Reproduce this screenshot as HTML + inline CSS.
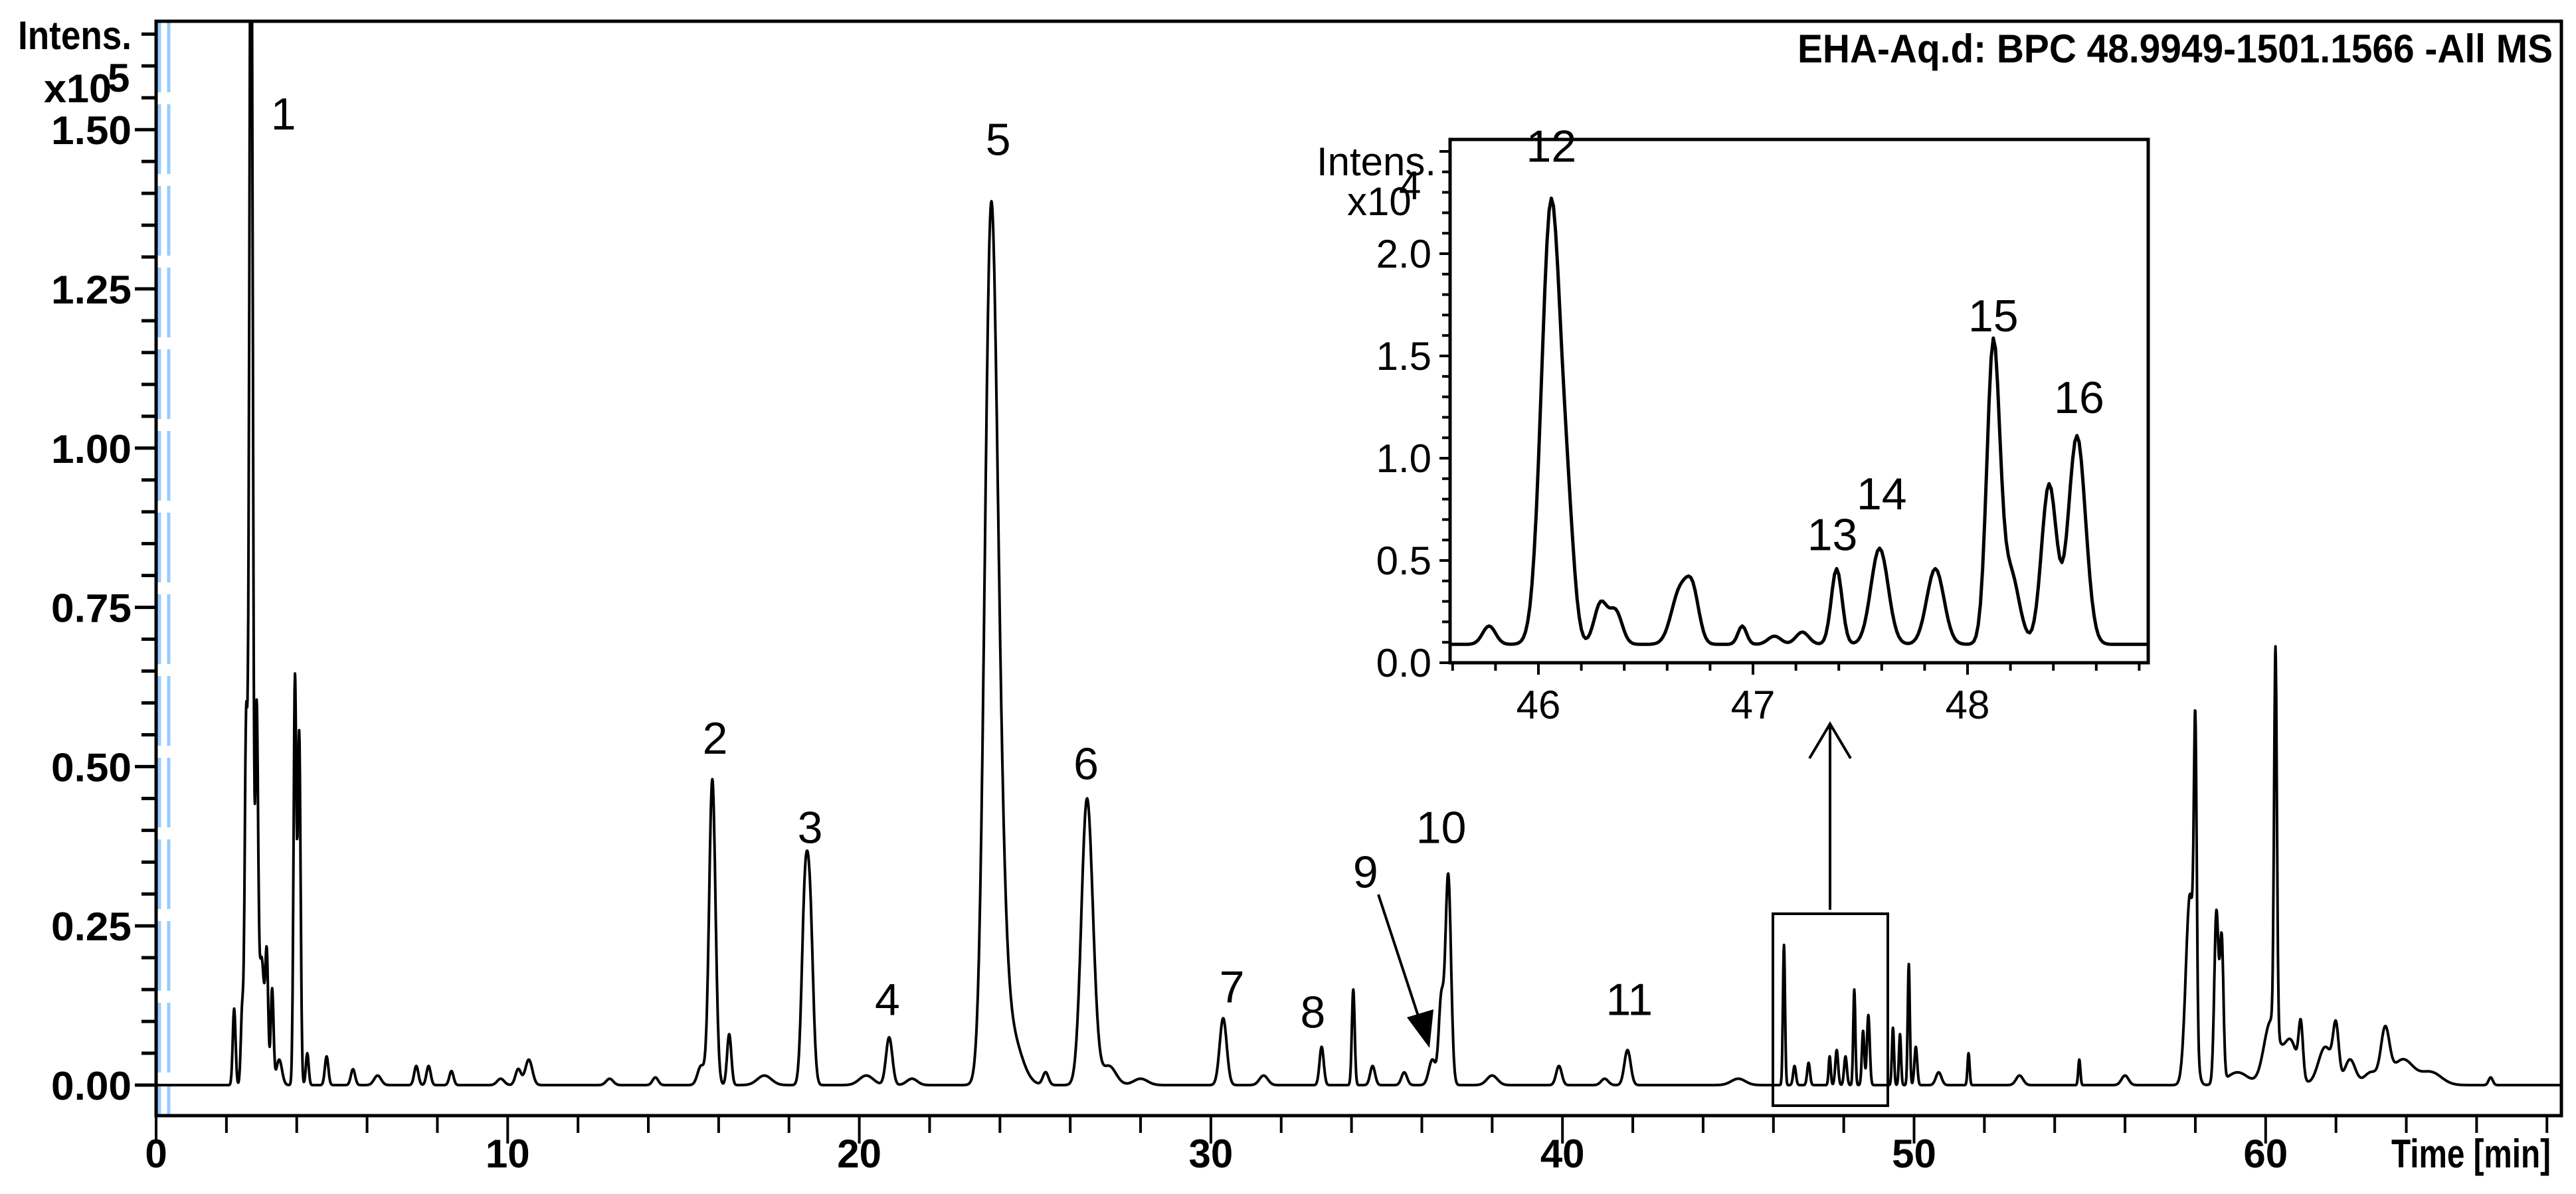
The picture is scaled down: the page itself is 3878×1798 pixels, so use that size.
<!DOCTYPE html>
<html><head><meta charset="utf-8"><style>
html,body{margin:0;padding:0;background:#fff;}
svg{display:block;}
.tk{font-family:"Liberation Sans",sans-serif;font-weight:bold;font-size:60px;fill:#000;}
.pl{font-family:"Liberation Sans",sans-serif;font-size:68px;fill:#000;}
.it{font-family:"Liberation Sans",sans-serif;font-size:60px;fill:#000;}
</style></head><body>
<svg id="chart" width="3878" height="1798" viewBox="0 0 3878 1798" xmlns="http://www.w3.org/2000/svg">
<defs>
<clipPath id="mainClip"><rect x="235" y="32" width="3621" height="1648"/></clipPath>
<clipPath id="inClip"><rect x="2183" y="210" width="1051" height="788"/></clipPath>
</defs>
<rect width="3878" height="1798" fill="#fff"/>
<g id="blue">
<line x1="240" y1="34" x2="240" y2="1680" stroke="#99ccff" stroke-width="5" stroke-dasharray="105,18"/>
<line x1="254" y1="34" x2="254" y2="1680" stroke="#99ccff" stroke-width="5" stroke-dasharray="105,18"/>
</g>
<g id="mainAxes"></g>
<g id="mainTrace" clip-path="url(#mainClip)"></g>
<rect x="235" y="32" width="3621" height="1648" fill="none" stroke="#000" stroke-width="5"/>
<text class="tk" x="27" y="74" textLength="171" lengthAdjust="spacingAndGlyphs">Intens.</text>
<text class="tk" x="66" y="154" textLength="102" lengthAdjust="spacingAndGlyphs">x10</text>
<text class="tk" x="162" y="138" font-size="54">5</text>
<text class="tk" x="2706" y="94" textLength="1137" lengthAdjust="spacingAndGlyphs">EHA-Aq.d: BPC 48.9949-1501.1566 -All MS</text>
<text class="tk" x="3600" y="1758" textLength="240" lengthAdjust="spacingAndGlyphs">Time [min]</text>
<rect x="2669" y="1376" width="173" height="289" fill="none" stroke="#000" stroke-width="4"/>
<g stroke="#000" stroke-width="4" fill="none">
<line x1="2755" y1="1370" x2="2755" y2="1090"/>
<polyline points="2724,1142 2755,1090 2786,1142"/>
</g>
<g>
<line x1="2075" y1="1347" x2="2140" y2="1545" stroke="#000" stroke-width="4"/>
<polygon points="2152,1578 2118,1532 2158,1520" fill="#000"/>
</g>
<g id="labels"></g>
<rect x="2183" y="210" width="1051" height="788" fill="#fff"/>
<g id="inAxes"></g>
<g id="inTrace" clip-path="url(#inClip)"></g>
<rect x="2183" y="210" width="1051" height="788" fill="none" stroke="#000" stroke-width="5"/>
<text class="it" x="1982" y="264" textLength="180" lengthAdjust="spacingAndGlyphs">Intens.</text>
<text class="it" x="2028" y="324">x10</text>
<text class="it" x="2106" y="300">4</text>
<g id="inLabels"></g>
</svg>
<script>
const NS="http://www.w3.org/2000/svg";
const mainYTicks=[0,0.25,0.5,0.75,1.0,1.25,1.5];
const mainYTickLabels=["0.00","0.25","0.50","0.75","1.00","1.25","1.50"];
const mainXTicks=[0,10,20,30,40,50,60];
const mainXTickLabels=["0","10","20","30","40","50","60"];
const mainPeakTimes=[2.22,2.45,2.56,2.7,2.86,3.0,3.15,3.3,3.5,3.95,4.07,4.3,4.85,5.6,6.3,7.4,7.75,8.4,9.8,10.3,10.6,12.9,14.2,15.5,15.82,16.3,17.3,18.45,18.6,20.2,20.85,21.5,23.72,23.9,24.3,25.3,26.45,26.6,27.1,28.0,30.35,31.5,33.15,34.05,34.6,35.5,36.3,36.55,36.75,38.0,39.9,41.2,41.85,45.0,46.3,46.6,47.0,47.6,47.8,48.05,48.3,48.55,48.7,49.4,49.6,49.85,50.05,50.7,51.55,53.0,54.7,56.0,57.85,58.0,58.6,58.75,59.2,60.15,60.28,60.7,61.0,61.7,62.0,62.4,63.0,63.4,63.9,64.7,66.4];
const mainPeakHeights=[0.12,0.12,0.55,2.0,0.55,0.2,0.18,0.15,0.04,0.64,0.55,0.05,0.045,0.025,0.015,0.03,0.03,0.022,0.01,0.025,0.04,0.01,0.012,0.03,0.48,0.08,0.015,0.27,0.25,0.015,0.075,0.01,1.04,0.46,0.08,0.02,0.37,0.12,0.03,0.01,0.105,0.015,0.06,0.15,0.03,0.02,0.04,0.13,0.33,0.015,0.03,0.01,0.055,0.01,0.22,0.03,0.035,0.045,0.055,0.045,0.15,0.085,0.11,0.09,0.08,0.19,0.06,0.02,0.05,0.015,0.04,0.015,0.3,0.45,0.27,0.22,0.02,0.1,0.6,0.07,0.08,0.06,0.08,0.04,0.02,0.08,0.04,0.02,0.012];
const mainPeakWidths=[0.04,0.04,0.04,0.05,0.04,0.08,0.04,0.04,0.08,0.04,0.04,0.04,0.05,0.06,0.1,0.06,0.06,0.06,0.1,0.08,0.1,0.1,0.08,0.1,0.09,0.06,0.2,0.09,0.09,0.2,0.09,0.15,0.17,0.2,0.3,0.08,0.15,0.15,0.2,0.2,0.1,0.12,0.06,0.04,0.07,0.08,0.1,0.07,0.08,0.15,0.08,0.1,0.09,0.2,0.03,0.04,0.04,0.03,0.04,0.04,0.03,0.035,0.04,0.03,0.03,0.03,0.04,0.08,0.03,0.1,0.03,0.1,0.12,0.04,0.06,0.05,0.3,0.2,0.04,0.2,0.06,0.2,0.08,0.15,0.2,0.12,0.3,0.3,0.06];
const peakLabelTexts=["1","2","3","4","5","6","7","8","9","10","11"];
const peakLabelTimes=[3.62,15.9,18.6,20.8,23.95,26.45,30.6,32.9,34.4,36.55,41.9];
const peakLabelValues=[1.50,0.52,0.38,0.11,1.46,0.48,0.13,0.09,0.31,0.38,0.11];
const insetYTicks=[0,0.5,1.0,1.5,2.0];
const insetYTickLabels=["0.0","0.5","1.0","1.5","2.0"];
const insetXTicks=[46,47,48];
const insetXTickLabels=["46","47","48"];
const insetPeakTimes=[45.77,46.06,46.14,46.29,46.36,46.66,46.72,46.95,47.1,47.23,47.39,47.59,47.85,48.12,48.2,48.38,48.51];
const insetPeakHeights=[0.09,2.17,0.4,0.2,0.16,0.26,0.22,0.09,0.04,0.06,0.37,0.47,0.37,1.45,0.35,0.78,1.02];
const insetPeakWidths=[0.03,0.045,0.03,0.03,0.03,0.04,0.03,0.02,0.03,0.03,0.025,0.04,0.04,0.03,0.04,0.035,0.04];
const insetLabelTexts=["12","13","14","15","16"];
const insetLabelTimes=[46.06,47.37,47.6,48.12,48.52];
const insetLabelValues=[2.45,0.55,0.75,1.62,1.22];

const xMain=t=>235+t*52.93;
const yMain=v=>1634-v*959.2;
const xIn=t=>2316+(t-46)*323;
const yIn=v=>998-v*308;
function mk(tag,attrs,parent){const e=document.createElementNS(NS,tag);for(const k in attrs)e.setAttribute(k,attrs[k]);parent.appendChild(e);return e;}
function sig(t,T,H,W){let v=0;for(let i=0;i<T.length;i++){const d=(t-T[i])/W[i];if(Math.abs(d)<8)v+=H[i]*Math.exp(-0.5*d*d);}return v;}

const ma=document.getElementById('mainAxes');
for(let i=0;i<=33;i++){const v=i*0.05;const maj=i%5===0;const y=yMain(v);
 const l=mk('line',{x1:235-(maj?32:22),x2:235,y1:y,y2:y,stroke:'#000','stroke-width':5},ma);
 
 }
mainYTicks.forEach((v,i)=>{const t=mk('text',{x:198,y:yMain(v)+22,'text-anchor':'end',class:'tk',textLength:121,lengthAdjust:'spacingAndGlyphs'},ma);t.textContent=mainYTickLabels[i];
 
 });
for(let m=0;m<=68;m+=2){const x=xMain(m);const maj=m%10===0;
 const l=mk('line',{x1:x,x2:x,y1:1680,y2:1680+(maj?42:26),stroke:'#000','stroke-width':4},ma);
 
 }
mainXTicks.forEach((v,i)=>{const t=mk('text',{x:xMain(v),y:1758,'text-anchor':'middle',class:'tk'},ma);t.textContent=mainXTickLabels[i];
 
 });

let d='';for(let t=0;t<=68.45;t+=0.01){const v=sig(t,mainPeakTimes,mainPeakHeights,mainPeakWidths);d+=(d?'L':'M')+xMain(t).toFixed(1)+','+yMain(v).toFixed(1);}
const mp=mk('path',{d:d,fill:'none',stroke:'#000','stroke-width':4,'stroke-linejoin':'round'},document.getElementById('mainTrace'));



const lb=document.getElementById('labels');
peakLabelTexts.forEach((s,i)=>{const t=mk('text',{x:xMain(peakLabelTimes[i]),y:yMain(peakLabelValues[i]),'text-anchor':'middle',class:'pl'},lb);t.textContent=s;
 
 });

const ia=document.getElementById('inAxes');
for(let i=0;i<=25;i++){const v=i*0.1;const y=yIn(v);const maj=i%5===0;
 const l=mk('line',{x1:2183-(maj?16:12),x2:2183,y1:y,y2:y,stroke:'#000','stroke-width':4},ia);
 
 }
insetYTicks.forEach((v,i)=>{const t=mk('text',{x:2155,y:yIn(v)+21,'text-anchor':'end',class:'it'},ia);t.textContent=insetYTickLabels[i];
 
 });
for(let k=0;k<=16;k++){const tm=45.6+k*0.2;const x=xIn(tm);if(x>3234)break;const maj=Math.abs(tm-Math.round(tm))<0.01;
 const l=mk('line',{x1:x,x2:x,y1:998,y2:998+(maj?18:12),stroke:'#000','stroke-width':4},ia);
 
 }
insetXTicks.forEach((v,i)=>{const t=mk('text',{x:xIn(v),y:1082,'text-anchor':'middle',class:'it'},ia);t.textContent=insetXTickLabels[i];
 
 });

let d2='';for(let t=45.55;t<=48.9;t+=0.01){const v=0.09+sig(t,insetPeakTimes,insetPeakHeights,insetPeakWidths);d2+=(d2?'L':'M')+xIn(t).toFixed(1)+','+yIn(v).toFixed(1);}
const ip=mk('path',{d:d2,fill:'none',stroke:'#000','stroke-width':5,'stroke-linejoin':'round'},document.getElementById('inTrace'));


const il=document.getElementById('inLabels');
insetLabelTexts.forEach((s,i)=>{const t=mk('text',{x:xIn(insetLabelTimes[i]),y:yIn(insetLabelValues[i]),'text-anchor':'middle',class:'pl'},il);t.textContent=s;
 
 });
</script>
</body></html>
